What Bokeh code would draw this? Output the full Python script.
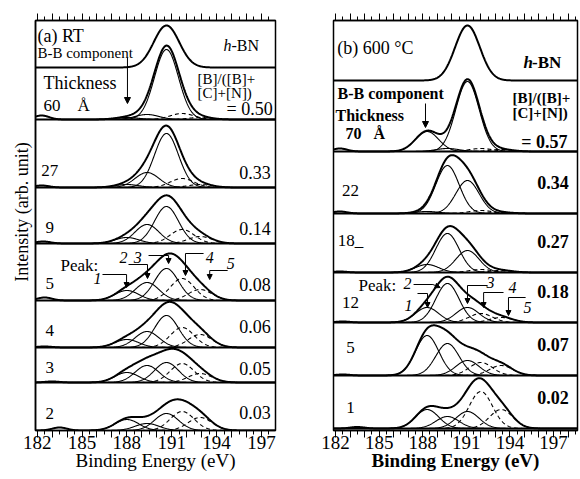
import numpy as np
from bokeh.plotting import figure
from bokeh.layouts import row
from bokeh.models import (Range1d, LinearAxis, FixedTicker, Span, Label, Arrow,
                          NormalHead, ColumnDataSource)
from bokeh.core.properties import value
from bokeh.embed import file_html
from bokeh.resources import INLINE

FONT = "Liberation Serif"
NB = "\u00a0"

# ------------------------------------------------------------------ data
tick_labels = [182, 185, 188, 191, 194, 197]
peak_names = ["1", "2", "3", "4", "5"]

# (a) RT
rt_thickness = ["60", "27", "9", "5", "4", "3", "2"]
rt_ratio = ["0.50", "0.33", "0.14", "0.08", "0.06", "0.05", "0.03"]
rt_centers = [188.0, 189.35, 190.65, 191.7, 192.9]
rt_width = 0.8
rt_heights = [
    [2, 5, 70, 6, 2],
    [3, 15, 54, 9, 3],
    [6, 19, 37, 14, 7],
    [10, 18, 32, 22, 11],
    [8, 16, 32, 20, 13],
    [10, 17, 20, 19, 9],
    [11, 7, 17, 19, 13],
]
rt_bump_center = [182.3, 182.3, 182.4, 182.5, 182.5, 183.0, 183.5]
rt_bump_height = [4, 2, 2, 3, 1, 1, 3]
rt_hbn_center, rt_hbn_height, rt_hbn_width = 190.65, 42, 0.85

# (b) 600 C
ht_thickness = ["70", "22", "18_", "12", "5", "1"]
ht_ratio = ["0.57", "0.34", "0.27", "0.18", "0.07", "0.02"]
ht_centers = [188.3, 189.7, 191.08, 192.0, 193.4]
ht_width = 0.8
ht_heights = [
    [20, 3, 70, 3, 2],
    [2, 48, 33, 3, 1],
    [8, 39, 22, 3, 2],
    [15, 39, 15, 9, 5],
    [40, 32, 15, 13, 10],
    [19, 12, 17, 37, 19],
]
ht_bump_center = [182.3, 182.3, 182.3, 182.5, 182.5, 183.5]
ht_bump_height = [3, 2, 1, 1, 1, 1.5]
ht_hbn_center, ht_hbn_height, ht_hbn_width = 191.08, 55, 0.85

# ------------------------------------------------------------------ layout
H = 476
Y_TOP = 410
rt_base = [311, 243, 187, 130, 83, 48, 0]
rt_hbn_base = 363
ht_base = [279, 217, 158, 108, 55, 2]
ht_hbn_base = 350
rt_xr = (181.89, 197.94)
ht_xr = (181.86, 198.65)


def gauss(x, c, h, s):
    return h * np.exp(-0.5 * ((x - c) / s) ** 2)


def make_fig(xr, width, mbl, mbr, left_label, bold):
    p = figure(width=width, height=H, x_range=Range1d(*xr), y_range=Range1d(0, Y_TOP),
               output_backend="svg", toolbar_location=None,
               x_axis_location=None, y_axis_location=None,
               min_border_left=mbl, min_border_right=mbr,
               min_border_top=20, min_border_bottom=46)
    p.grid.visible = False
    p.outline_line_color = "black"
    p.outline_line_width = 1.5
    p.background_fill_color = "white"
    p.border_fill_color = "white"
    major = list(range(182, 199))
    minor = [t + 0.5 for t in range(181, 199)]
    for loc in ("below", "above"):
        ax = LinearAxis(ticker=FixedTicker(ticks=major, minor_ticks=minor))
        ax.axis_line_color = "black"
        ax.axis_line_width = 1.5
        ax.major_tick_line_color = "black"
        ax.minor_tick_line_color = "black"
        ax.major_tick_out = 7
        ax.major_tick_in = 0
        ax.minor_tick_out = 4
        ax.minor_tick_in = 0
        ax.major_label_standoff = 0
        if loc == "below":
            ax.major_label_standoff = -2
            ax.major_label_overrides = {t: (str(t) if t in tick_labels else "") for t in major}
            ax.major_label_text_font = FONT
            ax.major_label_text_font_size = "19px"
            ax.major_label_text_color = "black"
            ax.axis_label = "Binding Energy (eV)"
            ax.axis_label_text_font = FONT
            ax.axis_label_text_font_size = "19px"
            ax.axis_label_text_color = "black"
            ax.axis_label_text_font_style = "bold" if bold else "normal"
            ax.axis_label_standoff = -2
        else:
            ax.major_label_overrides = {t: "" for t in major}
            ax.major_label_text_font_size = "0px"
        p.add_layout(ax, loc)
    if left_label:
        ay = LinearAxis(ticker=FixedTicker(ticks=[]))
        ay.axis_line_color = "black"
        ay.axis_line_width = 1.5
        ay.major_tick_line_color = None
        ay.minor_tick_line_color = None
        ay.major_label_text_font_size = "0px"
        # leading no-break spaces move the title slightly upwards, as in the original
        ay.axis_label = NB * 6 + left_label
        ay.axis_label_text_font = FONT
        ay.axis_label_text_font_size = "18px"
        ay.axis_label_text_color = "black"
        ay.axis_label_text_font_style = "normal"
        ay.axis_label_standoff = 4
        p.add_layout(ay, "left")
    return p


def draw_panel(p, xr, bases, centers, heights, width, bc, bh,
               hbn_base, hbn_c, hbn_h, hbn_w):
    xs = np.linspace(xr[0], xr[1], 500)
    solid_x, solid_y, dash_x, dash_y, env_x, env_y = [], [], [], [], [], []
    for base, hs, c0, h0 in zip(bases, heights, bc, bh):
        if base > 0:
            p.add_layout(Span(location=base, dimension="width",
                              line_color="black", line_width=2))
        comps = [gauss(xs, c, h, width) for c, h in zip(centers, hs)]
        for i, comp in enumerate(comps):
            if i < 3:
                solid_x.append(xs); solid_y.append(base + comp)
            else:
                dash_x.append(xs); dash_y.append(base + comp)
        env_x.append(xs)
        env_y.append(base + np.sum(comps, axis=0) + gauss(xs, c0, h0, 0.5))
    env_x.append(xs)
    env_y.append(hbn_base + gauss(xs, hbn_c, hbn_h, hbn_w))
    p.multi_line(xs=solid_x, ys=solid_y, line_color="black", line_width=1.1)
    p.multi_line(xs=dash_x, ys=dash_y, line_color="black", line_width=1.1,
                 line_dash="4 3")
    p.multi_line(xs=env_x, ys=env_y, line_color="black", line_width=2)


def lab(p, x, y, text, size=16, align="left", style="normal", x_offset=0):
    p.add_layout(Label(x=x, y=y, text=text, text_font=FONT, text_font_size=f"{size}px",
                       text_align=align, text_baseline="middle", text_color="black",
                       text_font_style=style, x_offset=x_offset))


def arrow(p, x0, y0, x1, y1, size=6):
    p.add_layout(Arrow(end=NormalHead(size=size, fill_color="black", line_color="black",
                                      line_width=1),
                       x_start=x0, y_start=y0, x_end=x1, y_end=y1,
                       line_color="black", line_width=1))


# ------------------------------------------------------------------ panel (a)
p1 = make_fig(rt_xr, 290, 35, 15, "Intensity (arb. unit)", False)
draw_panel(p1, rt_xr, rt_base, rt_centers, rt_heights, rt_width,
           rt_bump_center, rt_bump_height, rt_hbn_base, rt_hbn_center,
           rt_hbn_height, rt_hbn_width)

rt_th_dy = [17, 16, 17, 17, 15, 17]
rt_ra_dy = [15, 15, 16, 21, 14, 18]
src = ColumnDataSource(dict(x=[182.85] * 6,
                            y=[b + d for b, d in zip(rt_base[1:], rt_th_dy)],
                            t=rt_thickness[1:]))
p1.text(x="x", y="y", text="t", source=src, text_font=value(FONT),
        text_font_size="17px", text_align="center", text_baseline="middle")
src = ColumnDataSource(dict(x=[197.62] * 6,
                            y=[b + d for b, d in zip(rt_base[1:], rt_ra_dy)],
                            t=rt_ratio[1:]))
p1.text(x="x", y="y", text="t", source=src, text_font=value(FONT),
        text_font_size="18px", text_align="right", text_baseline="middle")

lab(p1, 182.02, 395, "(a) RT", 18)
lab(p1, 182.02, 378, "B-B component", 15)
lab(p1, 194.46, 385, "h", 16, style="italic")
lab(p1, 194.46, 385, "-BN", 16, x_offset=8)
lab(p1, 182.42, 348, "Thickness", 18)
lab(p1, 182.42, 325, rt_thickness[0] + NB * 4 + "Å", 17)
lab(p1, 192.73, 352, "[B]/([B]+", 15)
lab(p1, 192.73, 338, "[C]+[N])", 15)
lab(p1, 197.75, 322, "= " + rt_ratio[0], 18, align="right")
arrow(p1, 188.04, 373, 188.04, 327)

# peak labels in the 5 A strip
lab(p1, 183.56, 165, "Peak:", 17)
pk_lab_x = [186.04, 187.78, 188.72, 193.54, 194.94]
pk_lab_y = [152, 173, 173, 173, 167]
for n, x, y in zip(peak_names, pk_lab_x, pk_lab_y):
    lab(p1, x, y, n, 16, align="center", style="italic")
p1.segment(x0=[186.37, 188.11, 189.45, 191.92, 193.54],
           y0=[156, 166, 175, 177, 160],
           x1=[187.98, 189.38, 190.79, 193.13, 194.74],
           y1=[156, 166, 175, 177, 160], line_color="black", line_width=1)
for x, y0, y1 in zip([187.98, 189.38, 190.79, 191.92, 193.54],
                     [156, 166, 175, 177, 160], [143, 152, 167, 155, 151]):
    arrow(p1, x, y0, x, y1, 5)

# ------------------------------------------------------------------ panel (b)
p2 = make_fig(ht_xr, 290, 43, 3, None, True)
draw_panel(p2, ht_xr, ht_base, ht_centers, ht_heights, ht_width,
           ht_bump_center, ht_bump_height, ht_hbn_base, ht_hbn_center,
           ht_hbn_height, ht_hbn_width)

ht_th_dy = [23, 32, 20, 28, 21]
src = ColumnDataSource(dict(x=[183.03] * 5,
                            y=[b + d for b, d in zip(ht_base[1:], ht_th_dy)],
                            t=ht_thickness[1:]))
p2.text(x="x", y="y", text="t", source=src, text_font=value(FONT),
        text_font_size="17px", text_align="center", text_baseline="middle")
src = ColumnDataSource(dict(x=[198.04] * 5,
                            y=[b + 31 for b in ht_base[1:]],
                            t=ht_ratio[1:]))
p2.text(x="x", y="y", text="t", source=src, text_font=value(FONT),
        text_font_size="18px", text_align="right", text_baseline="middle",
        text_font_style="bold")

lab(p2, 182.12, 383, "(b) 600 °C", 18)
lab(p2, 194.94, 368, "h", 17, style="bold italic")
lab(p2, 194.94, 368, "-BN", 17, style="bold", x_offset=8.5)
lab(p2, 182.14, 337, "B-B component", 16, style="bold")
lab(p2, 182.0, 315, "Thickness", 16, style="bold")
lab(p2, 182.69, 297, ht_thickness[0] + NB * 3 + "Å", 16, style="bold")
lab(p2, 194.18, 333, "[B]/([B]+", 15, style="bold")
lab(p2, 194.18, 318, "[C]+[N])", 15, style="bold")
lab(p2, 197.97, 289, "= " + ht_ratio[0], 18, align="right", style="bold")
arrow(p2, 188.19, 327, 188.19, 303)

lab(p2, 183.58, 145, "Peak:", 17)
pk2_lab_x = [187.02, 186.96, 192.67, 194.18, 195.21]
pk2_lab_y = [125, 147, 148, 143, 123]
for n, x, y in zip(peak_names, pk2_lab_x, pk2_lab_y):
    lab(p2, x, y, n, 16, align="center", style="italic")
p2.segment(x0=[187.64, 187.37, 191.08, 192.19, 193.9],
           y0=[137, 146, 145, 138, 133],
           x1=[188.33, 188.7, 192.46, 193.56, 195.08],
           y1=[137, 146, 145, 138, 133], line_color="black", line_width=1)
arrow(p2, 188.7, 146, 189.2, 143, 5)
for x, y0, y1 in zip([188.33, 191.08, 192.19, 193.9],
                     [137, 145, 138, 133], [123, 127, 123, 115]):
    arrow(p2, x, y0, x, y1, 5)

layout = row(p1, p2)
open("out.html", "w").write(file_html(layout, INLINE))
